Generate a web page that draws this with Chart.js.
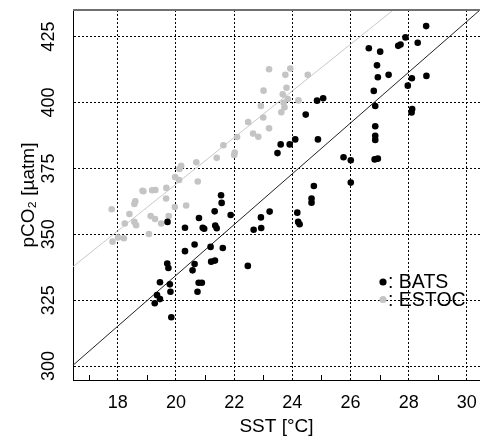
<!DOCTYPE html>
<html>
<head>
<meta charset="utf-8">
<script src="https://cdn.jsdelivr.net/npm/chart.js@4.4.0/dist/chart.umd.min.js"></script>
<style>
  html, body { margin: 0; padding: 0; background: #fff; }
</style>
</head>
<body>
<canvas id="sst-pco2" width="489" height="441"></canvas>
<script>
// axis ranges and ticks
var sstRange = [16.46, 30.45];
var pco2Range = [294.7, 435.1];
var sstTicks = [18, 20, 22, 24, 26, 28, 30];
var sstMinorTicks = [17, 19, 21, 23, 25, 27, 29];
var pco2Ticks = [300, 325, 350, 375, 400, 425];

// BATS (black dots)
var batsSst = [28.60, 27.89, 28.31, 27.64, 27.72, 26.63, 27.02, 26.91, 26.94, 27.31,
  28.11, 28.61, 27.97, 26.80, 26.85, 28.12, 28.10, 24.85, 25.06, 24.46,
  26.85, 26.85, 26.85, 23.60, 23.91, 24.10, 23.49, 24.88, 25.76, 26.01,
  26.83, 26.94, 26.01, 24.74, 24.66, 24.66, 24.17, 24.20, 24.25, 23.22,
  22.92, 22.67, 22.93, 22.47, 21.55, 21.57, 21.88, 21.33, 21.35, 21.40,
  20.79, 20.92, 20.97, 20.31, 19.71, 20.31, 20.64, 21.19, 21.61, 21.21,
  21.34, 20.57, 20.64, 19.70, 19.74, 20.78, 20.89, 20.74, 19.45, 19.79,
  19.81, 19.35, 19.45, 19.27, 19.84];
var batsPco2 = [429.0, 424.7, 422.7, 421.5, 422.0, 420.6, 419.3, 414.1, 409.6, 410.5,
  409.2, 410.1, 406.4, 404.4, 398.7, 397.5, 396.2, 400.7, 401.6, 395.4,
  391.0, 387.4, 385.8, 384.1, 384.1, 386.0, 380.8, 386.0, 379.2, 378.1,
  378.4, 378.7, 369.6, 368.3, 363.6, 362.0, 358.2, 354.7, 353.8, 358.6,
  356.4, 351.7, 352.4, 338.0, 364.8, 361.9, 357.3, 358.7, 353.3, 352.3,
  356.2, 352.5, 352.1, 352.5, 354.7, 343.6, 346.1, 345.2, 344.8, 339.6,
  340.0, 336.3, 338.7, 338.9, 337.2, 331.6, 331.6, 328.2, 331.8, 331.0,
  328.2, 326.9, 325.4, 323.8, 318.5];

// ESTOC (grey dots)
var estocSst = [23.20, 23.93, 24.53, 23.76, 23.01, 23.80, 23.67, 23.84, 24.21, 23.70,
  23.73, 22.92, 23.62, 23.00, 23.20, 22.48, 22.65, 22.83, 22.10, 21.63,
  22.02, 22.00, 21.40, 20.18, 20.12, 20.70, 19.97, 20.11, 20.75, 19.67,
  19.66, 19.29, 19.18, 18.88, 18.85, 18.60, 18.57, 18.40, 17.79, 18.24,
  18.57, 18.63, 19.13, 19.28, 19.49, 19.75, 19.96, 20.35, 19.07, 18.01,
  18.21, 17.82];
var estocPco2 = [412.6, 412.9, 410.5, 410.5, 404.5, 405.6, 403.1, 401.3, 400.8, 399.9,
  398.2, 398.7, 396.3, 394.3, 390.2, 392.6, 388.2, 387.0, 386.9, 383.8,
  381.0, 380.1, 379.0, 376.0, 374.8, 377.3, 371.7, 370.6, 370.0, 367.6,
  363.6, 366.8, 366.7, 366.3, 366.5, 362.5, 361.5, 357.7, 359.5, 354.1,
  354.7, 353.4, 356.9, 355.8, 354.1, 356.9, 360.3, 360.9, 350.1, 348.8,
  348.5, 347.2];

// fitted lines (end points)
var batsLineSst = [16.46, 30.44];
var batsLinePco2 = [300.3, 435.0];
var estocLineSst = [16.46, 27.47];
var estocLinePco2 = [337.7, 435.1];

var FONT = '"Liberation Sans", Arial, sans-serif';

function toPoints(xs, ys){
  return xs.map(function(x, i){ return {x: x, y: ys[i]}; });
}

var extrasPlugin = {
  id: 'extras',
  afterDraw: function(chart){
    var ctx = chart.ctx;
    var area = chart.chartArea;
    var xs = chart.scales.x;
    var ys = chart.scales.y;

    ctx.save();
    // top frame line
    ctx.strokeStyle = '#707070';
    ctx.lineWidth = 2;
    ctx.beginPath();
    ctx.moveTo(area.left, area.top);
    ctx.lineTo(area.right, area.top);
    ctx.stroke();

    // minor ticks on x axis
    ctx.strokeStyle = '#000';
    ctx.lineWidth = 1;
    sstMinorTicks.forEach(function(v){
      var px = Math.round(xs.getPixelForValue(v)) + 0.5;
      ctx.beginPath();
      ctx.moveTo(px, area.bottom);
      ctx.lineTo(px, area.bottom - 5);
      ctx.stroke();
    });

    // rotated y tick labels
    ctx.fillStyle = '#000';
    ctx.font = '18px ' + FONT;
    ctx.textAlign = 'center';
    ctx.textBaseline = 'middle';
    pco2Ticks.forEach(function(v){
      var py = ys.getPixelForValue(v);
      ctx.save();
      ctx.translate(49, py);
      ctx.rotate(-Math.PI / 2);
      ctx.fillText(String(v), 0, 0);
      ctx.restore();
    });

    // legend
    var items = [['#000', ': BATS', 282], ['#c4c4c4', ': ESTOC', 299.5]];
    ctx.font = '19.5px ' + FONT;
    ctx.textAlign = 'left';
    items.forEach(function(it){
      ctx.fillStyle = it[0];
      ctx.beginPath();
      ctx.arc(383, it[2], 3.6, 0, Math.PI * 2);
      ctx.fill();
      ctx.fillStyle = '#000';
      ctx.fillText(it[1], 388, it[2] + 1);
    });
    ctx.restore();
  }
};

function init(){
  var element = document.getElementById('sst-pco2').getContext('2d');

  var chart = new Chart(element, {
    type: 'scatter',
    data: {
      datasets: [{
        label: 'BATS',
        data: toPoints(batsSst, batsPco2),
        backgroundColor: '#000',
        borderWidth: 0,
        pointRadius: 3.3,
        order: 0
      }, {
        label: 'ESTOC',
        data: toPoints(estocSst, estocPco2),
        backgroundColor: '#c4c4c4',
        borderWidth: 0,
        pointRadius: 3.3,
        order: 1
      }, {
        label: 'BATS fit',
        data: toPoints(batsLineSst, batsLinePco2),
        showLine: true,
        borderColor: '#222',
        borderWidth: 1,
        pointRadius: 0,
        order: 2
      }, {
        label: 'ESTOC fit',
        data: toPoints(estocLineSst, estocLinePco2),
        showLine: true,
        borderColor: '#c8c8c8',
        borderWidth: 1,
        pointRadius: 0,
        order: 3
      }]
    },
    options: {
      responsive: false,
      animation: false,
      layout: {padding: {top: 10, right: 1, left: 0, bottom: 0}},
      plugins: {legend: {display: false}, tooltip: {enabled: false}},
      scales: {
        x: {
          type: 'linear',
          min: sstRange[0],
          max: sstRange[1],
          afterBuildTicks: function(s){ s.ticks = sstTicks.map(function(v){ return {value: v}; }); },
          afterFit: function(s){ s.height = 61; },
          grid: {color: '#000', lineWidth: 1, drawTicks: false},
          border: {color: '#000', width: 1, dash: [2, 2]},
          ticks: {padding: 12, color: '#000', font: {family: FONT, size: 18}},
          title: {display: true, text: 'SST [°C]', color: '#000', font: {family: FONT, size: 19}, padding: {top: 0, bottom: 3}}
        },
        y: {
          type: 'linear',
          min: pco2Range[0],
          max: pco2Range[1],
          afterBuildTicks: function(s){ s.ticks = pco2Ticks.map(function(v){ return {value: v}; }); },
          afterFit: function(s){ s.width = 73; },
          grid: {color: '#000', lineWidth: 1, drawTicks: false},
          border: {color: '#000', width: 1, dash: [2, 2]},
          ticks: {display: false},
          title: {display: true, text: 'pCO₂ [µatm]', color: '#000', font: {family: FONT, size: 19}, padding: {top: 17, bottom: 0}}
        }
      }
    },
    plugins: [extrasPlugin]
  });
}

init();
</script>
</body>
</html>
